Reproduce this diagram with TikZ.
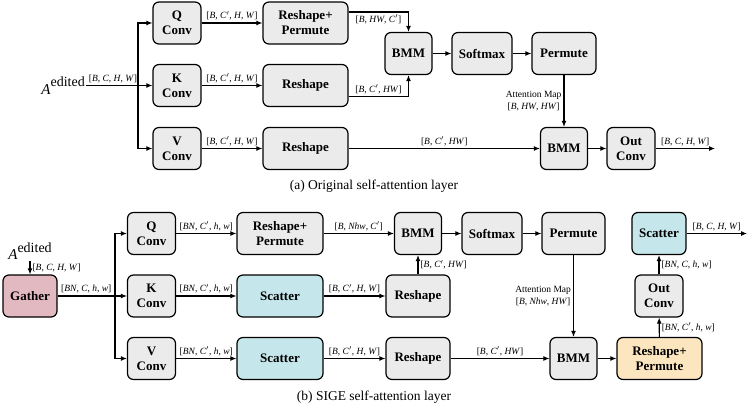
\documentclass[tikz,border=0pt]{standalone}
\usepackage{fontspec}
\setmainfont{Liberation Serif}
\usetikzlibrary{arrows.meta}
\definecolor{boxgray}{RGB}{235,235,235}
\definecolor{gatherpink}{RGB}{227,185,193}
\definecolor{scattercyan}{RGB}{197,230,234}
\definecolor{permyellow}{RGB}{252,230,192}
\newcommand{\aedited}{{\fontsize{15}{15}\selectfont\textit{A}}\raisebox{7.5pt}{\fontsize{14}{14}\selectfont edited}}
\begin{document}
\begin{tikzpicture}[x=1pt,y=-1pt,
    box/.style={rectangle,draw,rounded corners=6pt,line width=1.2pt,fill=boxgray,
      minimum height=42pt,inner sep=0pt,align=center,font=\fontsize{13}{15}\selectfont\bfseries},
    lbl/.style={inner sep=2pt,font=\fontsize{9.5}{11.5}\selectfont},
    arr/.style={-{Latex[length=6pt,width=5pt]},line width=1.1pt},
    captext/.style={font=\fontsize{13.5}{15}\selectfont}]
  \useasboundingbox (0,0) rectangle (748,407);

  % (a) original self-attention
  \node[anchor=east,inner sep=1pt] (aedit) at (86,85.5) {\aedited};
  \coordinate (splitA) at (138,85.5);
  \node[box,minimum width=48pt] (qconv) at (177,23) {Q\\Conv};
  \node[box,minimum width=48pt] (kconv) at (177,85.5) {K\\Conv};
  \node[box,minimum width=48pt] (vconv) at (177,148.5) {V\\Conv};
  \node[box,minimum width=85pt] (qreshape) at (305.5,23) {Reshape+\\Permute};
  \node[box,minimum width=85pt] (kreshape) at (305.5,85.5) {Reshape};
  \node[box,minimum width=85pt] (vreshape) at (305.5,148.5) {Reshape};
  \node[box,minimum width=47pt] (bmmA) at (408.5,53.5) {BMM};
  \node[box,minimum width=60pt] (softmaxA) at (482,53.5) {Softmax};
  \node[box,minimum width=64pt] (permuteA) at (564,53.5) {Permute};
  \node[box,minimum width=47pt] (bmmB) at (564,148.5) {BMM};
  \node[box,minimum width=48pt] (outconv) at (631,148.5) {Out\\Conv};
  \coordinate (outA) at (715,148.5);

  \draw[line width=1.1pt] (aedit.east) -- node[lbl,above,xshift=1pt] {[\textit{B}, \textit{C}, \textit{H}, \textit{W}]} (splitA);
  \draw[arr] (splitA) -- (kconv);
  \draw[arr] (splitA) |- (qconv);
  \draw[arr] (splitA) |- (vconv);
  \draw[arr] (qconv) -- node[lbl,above] {[\textit{B}, \textit{C}$'$, \textit{H}, \textit{W}]} (qreshape);
  \draw[arr] (kconv) -- node[lbl,above] {[\textit{B}, \textit{C}$'$, \textit{H}, \textit{W}]} (kreshape);
  \draw[arr] (vconv) -- node[lbl,above] {[\textit{B}, \textit{C}$'$, \textit{H}, \textit{W}]} (vreshape);
  \draw[arr] ([yshift=11pt]qreshape.east) -| node[lbl,below,pos=0.25] {[\textit{B}, \textit{HW}, \textit{C}$'$]} (bmmA);
  \draw[arr] ([yshift=-11pt]kreshape.east) -| node[lbl,above,pos=0.25] {[\textit{B}, \textit{C}$'$, \textit{HW}]} (bmmA);
  \draw[arr] (bmmA) -- (softmaxA);
  \draw[arr] (softmaxA) -- (permuteA);
  \draw[arr] (permuteA) -- node[lbl,left,align=center] {Attention Map\\{}[\textit{B}, \textit{HW}, \textit{HW}]} (bmmB);
  \draw[arr] (vreshape) -- node[lbl,above] {[\textit{B}, \textit{C}$'$, \textit{HW}]} (bmmB);
  \draw[arr] (bmmB) -- (outconv);
  \draw[arr] (outconv) -- node[lbl,above] {[\textit{B}, \textit{C}, \textit{H}, \textit{W}]} (outA);
  \node[captext] (capA) at (374,186) {(a) Original self-attention layer};

  % (b) SIGE self-attention
  \node[anchor=south,inner sep=1pt] (aeditb) at (30,261) {\aedited};
  \node[box,minimum width=54pt,fill=gatherpink] (gather) at (30,296) {Gather};
  \coordinate (splitB) at (115,296);
  \node[box,minimum width=48pt] (qconvb) at (151.5,233.5) {Q\\Conv};
  \node[box,minimum width=48pt] (kconvb) at (151.5,296) {K\\Conv};
  \node[box,minimum width=48pt] (vconvb) at (151.5,358.5) {V\\Conv};
  \node[box,minimum width=86pt] (qreshapeb) at (280,233.5) {Reshape+\\Permute};
  \node[box,minimum width=86pt,fill=scattercyan] (kscatter) at (280,296) {Scatter};
  \node[box,minimum width=86pt,fill=scattercyan] (vscatter) at (280,358.5) {Scatter};
  \node[box,minimum width=47pt] (bmmAb) at (418,233.5) {BMM};
  \node[box,minimum width=60pt] (softmaxb) at (492,233.5) {Softmax};
  \node[box,minimum width=63pt] (permuteb) at (573.5,233.5) {Permute};
  \node[box,minimum width=54pt,fill=scattercyan] (scatterb) at (659,233.5) {Scatter};
  \node[box,minimum width=64pt] (kreshapeb) at (418,296) {Reshape};
  \node[box,minimum width=64pt] (vreshapeb) at (418,358.5) {Reshape};
  \node[box,minimum width=47pt] (bmmBb) at (573.5,358.5) {BMM};
  \node[box,minimum width=85pt,fill=permyellow] (rpermute) at (659.5,358.5) {Reshape+\\Permute};
  \node[box,minimum width=48pt] (outconvb) at (659,296) {Out\\Conv};
  \coordinate (outB) at (747,233.5);

  \draw[arr] (aeditb) -- node[lbl,right] {[\textit{B}, \textit{C}, \textit{H}, \textit{W}]} (gather);
  \draw[line width=1.1pt] (gather) -- node[lbl,above] {[\textit{BN}, \textit{C}, \textit{h}, \textit{w}]} (splitB);
  \draw[arr] (splitB) -- (kconvb);
  \draw[arr] (splitB) |- (qconvb);
  \draw[arr] (splitB) |- (vconvb);
  \draw[arr] (qconvb) -- node[lbl,above] {[\textit{BN}, \textit{C}$'$, \textit{h}, \textit{w}]} (qreshapeb);
  \draw[arr] (kconvb) -- node[lbl,above] {[\textit{BN}, \textit{C}$'$, \textit{h}, \textit{w}]} (kscatter);
  \draw[arr] (vconvb) -- node[lbl,above] {[\textit{BN}, \textit{C}$'$, \textit{h}, \textit{w}]} (vscatter);
  \draw[arr] (qreshapeb) -- node[lbl,above] {[\textit{B}, \textit{Nhw}, \textit{C}$'$]} (bmmAb);
  \draw[arr] (kscatter) -- node[lbl,above] {[\textit{B}, \textit{C}$'$, \textit{H}, \textit{W}]} (kreshapeb);
  \draw[arr] (vscatter) -- node[lbl,above] {[\textit{B}, \textit{C}$'$, \textit{H}, \textit{W}]} (vreshapeb);
  \draw[arr] (kreshapeb) -- node[lbl,right] {[\textit{B}, \textit{C}$'$, \textit{HW}]} (bmmAb);
  \draw[arr] (bmmAb) -- (softmaxb);
  \draw[arr] (softmaxb) -- (permuteb);
  \draw[arr] (permuteb) -- node[lbl,left,align=center] {Attention Map\\{}[\textit{B}, \textit{Nhw}, \textit{HW}]} (bmmBb);
  \draw[arr] (vreshapeb) -- node[lbl,above] {[\textit{B}, \textit{C}$'$, \textit{HW}]} (bmmBb);
  \draw[arr] (bmmBb) -- (rpermute);
  \draw[arr] (rpermute) -- node[lbl,right] {[\textit{BN}, \textit{C}$'$, \textit{h}, \textit{w}]} (outconvb);
  \draw[arr] (outconvb) -- node[lbl,right] {[\textit{BN}, \textit{C}, \textit{h}, \textit{w}]} (scatterb);
  \draw[arr] (scatterb) -- node[lbl,above] {[\textit{B}, \textit{C}, \textit{H}, \textit{W}]} (outB);
  \node[captext] (capB) at (374,397) {(b) SIGE self-attention layer};
\end{tikzpicture}
\end{document}
